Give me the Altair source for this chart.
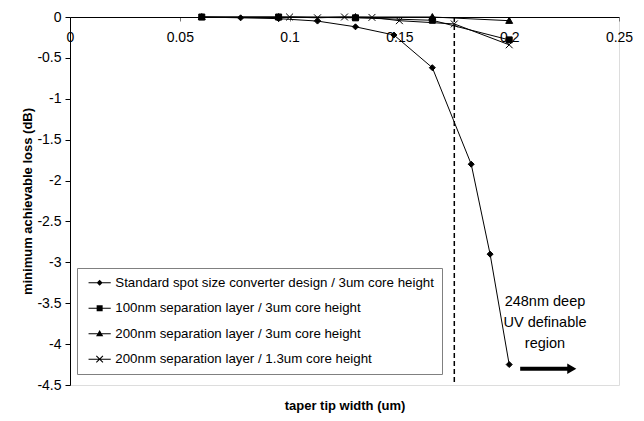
import altair as alt
import pandas as pd

# ---- data ----
series_names = [
    "Standard spot size converter design / 3um core height",
    "100nm separation layer / 3um core height",
    "200nm separation layer / 3um core height",
    "200nm separation layer / 1.3um core height",
]
std_x = [0.06, 0.0777, 0.095, 0.1127, 0.13, 0.1475, 0.165, 0.1827, 0.1913, 0.2]
std_y = [0.0, -0.01, -0.02, -0.05, -0.12, -0.22, -0.62, -1.80, -2.90, -4.25]
sep100_x = [0.06, 0.095, 0.13, 0.165, 0.2]
sep100_y = [0.0, 0.0, -0.01, -0.04, -0.28]
sep200_x = [0.06, 0.095, 0.13, 0.165, 0.2]
sep200_y = [0.0, 0.0, 0.0, 0.0, -0.045]
thin_x = [0.1, 0.1127, 0.125, 0.1375, 0.15, 0.175, 0.2]
thin_y = [0.0, -0.01, 0.0, -0.005, -0.045, -0.085, -0.34]

x_ticks = [0, 0.05, 0.1, 0.15, 0.2, 0.25]
y_ticks = [0, -0.5, -1, -1.5, -2, -2.5, -3, -3.5, -4, -4.5]

cutoff_x = [0.175]
note_text = ["248nm deep\nUV definable\nregion"]
note_x = [0.2163]
note_y = [-3.485]
arrow_x = [0.205]
arrow_x2 = [0.2285]
arrow_y = [-4.30]

FONT = "Liberation Sans"

rows = []
for name, xs, ys in zip(series_names,
                        [std_x, sep100_x, sep200_x, thin_x],
                        [std_y, sep100_y, sep200_y, thin_y]):
    for xv, yv in zip(xs, ys):
        rows.append({"series": name, "leg": name, "x": xv, "y": yv})
df = pd.DataFrame(rows)

marker_paths = [
    "M0,-1L1,0L0,1L-1,0Z",
    "M-1,-1H1V1H-1Z",
    "M0,-1.15L1.15,0.9L-1.15,0.9Z",
    "M-1.15,-1.15L1.15,1.15M-1.15,1.15L1.15,-1.15",
]
LINE = "M-1.85,-0.085H1.85V0.085H-1.85Z"
legend_paths = [
    LINE + "M0,-0.5L0.5,0L0,0.5L-0.5,0Z",
    LINE + "M-0.5,-0.5H0.5V0.5H-0.5Z",
    LINE + "M0,-0.6L0.6,0.45L-0.6,0.45Z",
    LINE + "M-0.486,-0.614L0.614,0.486L0.486,0.614L-0.614,-0.486Z"
           "M-0.614,0.486L0.486,-0.614L0.614,-0.486L-0.486,0.614Z",
]

xs = alt.Scale(domain=[0, 0.25], nice=False, zero=False)
ys = alt.Scale(domain=[-4.5, 0], nice=False, zero=False)

x_enc = alt.X("x:Q", scale=xs, axis=alt.Axis(
    orient="bottom", offset=-368, values=x_ticks, labelExpr="'' + datum.value",
    labelFlush=False, labelOverlap=False, grid=False, tickSize=4, tickColor="#777777",
    domainColor="black", labelFont=FONT, labelFontSize=14, labelColor="black",
    labelPadding=9, title="taper tip width (um)", titleFont=FONT, titleFontSize=13,
    titleFontWeight="bold", titleColor="black", titleY=388, titleBaseline="middle"))
y_enc = alt.Y("y:Q", scale=ys, axis=alt.Axis(
    values=y_ticks, labelExpr="'' + datum.value", labelFlush=False, labelOverlap=False,
    grid=False, tickSize=5, tickColor="black", domainColor="black", labelFont=FONT,
    labelFontSize=14, labelColor="black", labelPadding=4,
    title="minimum achievable loss (dB)", titleFont=FONT, titleFontSize=13,
    titleFontWeight="bold", titleColor="black", titleX=-43, titleBaseline="middle"))

base = alt.Chart(df)

lines = base.mark_line(color="black", strokeWidth=1).encode(
    x=x_enc, y=y_enc, detail="series:N", order="x:Q")

points = base.mark_point(fill="black", stroke="black", strokeWidth=1, opacity=1, size=36).encode(
    x="x:Q", y="y:Q",
    shape=alt.Shape("series:N", scale=alt.Scale(domain=series_names, range=marker_paths), legend=None))

legend_layer = base.mark_point(fill="black", opacity=0).encode(
    x="x:Q", y="y:Q",
    shape=alt.Shape("leg:N", scale=alt.Scale(domain=series_names, range=legend_paths),
                    legend=alt.Legend(
                        title=None, orient="none", legendX=7, legendY=251,
                        fillColor="white", strokeColor="#808080", padding=8,
                        symbolSize=144, symbolOpacity=1, symbolFillColor="black",
                        symbolStrokeWidth=0,
                        symbolOffset=8, labelOffset=9, rowPadding=11.5,
                        labelFont=FONT, labelFontSize=13.3, labelColor="black",
                        labelLimit=400)))

cut = alt.Chart(pd.DataFrame({"x": cutoff_x})).mark_rule(
    color="black", strokeWidth=1.5, strokeDash=[5, 3]).encode(x="x:Q")

note = alt.Chart(pd.DataFrame({"x": note_x, "y": note_y, "t": note_text})).mark_text(
    font=FONT, fontSize=14.5, lineBreak="\n", lineHeight=21, align="center",
    baseline="middle", color="black").encode(x="x:Q", y="y:Q", text="t:N")

arrow_df = pd.DataFrame({"x": arrow_x, "x2": arrow_x2, "y": arrow_y})
arrow_shaft = alt.Chart(arrow_df).mark_rule(color="black", strokeWidth=4).encode(
    x="x:Q", x2="x2:Q", y="y:Q")
arrow_head = alt.Chart(arrow_df).mark_point(
    shape="triangle-right", size=110, filled=True, color="black", opacity=1).encode(
    x="x2:Q", y="y:Q")

chart = alt.layer(cut, lines, points, legend_layer, note, arrow_shaft, arrow_head).resolve_scale(
    shape="independent").properties(
    width=549, height=368,
    autosize=alt.AutoSizeParams(type="none"),
    padding={"left": 70, "top": 17, "right": 25, "bottom": 36},
).configure_view(stroke="#808080", strokeWidth=1).configure(background="white")

chart.save("out.html", embed_options={"renderer": "svg", "actions": False})
